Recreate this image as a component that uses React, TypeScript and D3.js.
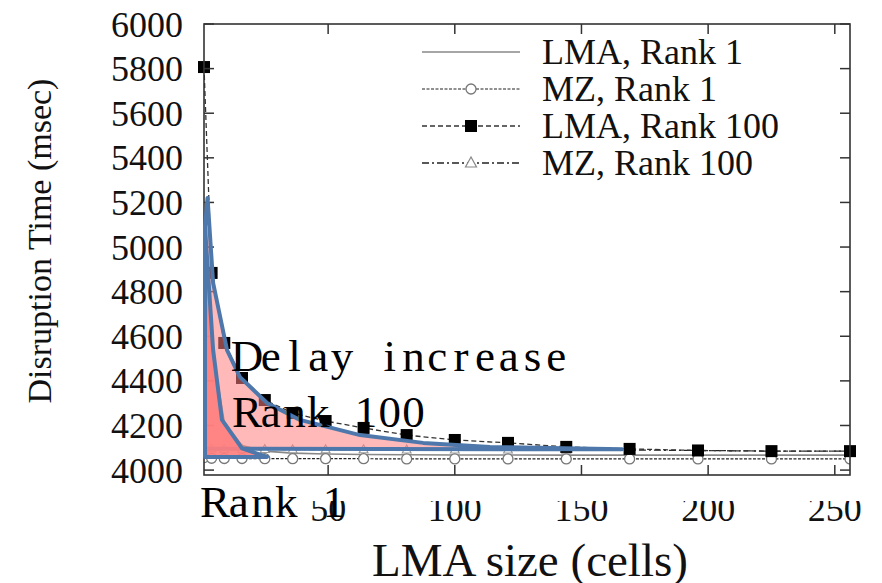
import React from "react";
import * as d3 from "d3";

// ---- data ----
const lmaSizes = [1, 4, 9, 16, 25, 36, 49, 64, 81, 100, 121, 144, 169, 196, 225, 256];
const lmaRank1 = [5150, 4560, 4215, 4110, 4085, 4076, 4072, 4070, 4069, 4068, 4068, 4067, 4067, 4067, 4067, 4067];
const mzRank1 = [4056, 4053, 4052, 4052, 4051, 4051, 4051, 4051, 4050, 4050, 4050, 4050, 4050, 4050, 4050, 4050];
const lmaRank100 = [5807, 4884, 4570, 4413, 4314, 4256, 4220, 4189, 4157, 4135, 4122, 4104, 4095, 4088, 4085, 4085];
const mzRank100 = [4100, 4096, 4094, 4093, 4093, 4092, 4092, 4092, 4091, 4091, 4091, 4090, 4090, 4088, 4085, 4085];

const yTicks = [4000, 4200, 4400, 4600, 4800, 5000, 5200, 5400, 5600, 5800, 6000];
const xTicks = [50, 100, 150, 200, 250];
const legendLabels = ["LMA, Rank 1", "MZ, Rank 1", "LMA, Rank 100", "MZ, Rank 100"];

// annotation shapes (data units: cells, msec)
const rank100Band: [number, number][] = [
  [2.4, 5220], [4.6, 4839], [10.1, 4538], [15.2, 4417], [25.9, 4301], [38.9, 4225],
  [62.6, 4157], [87.5, 4122], [113.9, 4104], [166, 4093], [16, 4096], [1.4, 4096], [1.4, 5090],
];
const rank1Band: [number, number][] = [
  [1.4, 5090], [4.6, 4538], [8.1, 4225], [16, 4097], [25.9, 4059], [1.4, 4059],
];

const W = 882, H = 583;
const L = 204, R = 850, T = 24, B = 475;
const SERIF = "Liberation Serif";
const BLUE = "#4e78ab";
const serifStyle = { fontFamily: SERIF } as React.CSSProperties;

function MonoText({ text, x0, y, cw, size }: { text: string; x0: number; y: number; cw: number; size: number }) {
  const xs = text.split("").map((_, i) => (x0 + (i + 0.5) * cw).toFixed(1)).join(" ");
  return (
    <text x={xs} y={y} style={serifStyle} fontSize={size} textAnchor="middle" fill="#000">
      {text}
    </text>
  );
}

export default function App() {
  const x = d3.scaleLinear().domain([1, 256]).range([L, R]);
  const y = d3.scaleLinear().domain([3978, 6000]).range([B, T]);
  const line = d3
    .line<[number, number]>()
    .x((d) => x(d[0]))
    .y((d) => y(d[1]));
  const pts = (vals: number[]) => lmaSizes.map((s, i) => [s, vals[i]] as [number, number]);
  const poly = (arr: [number, number][]) => arr.map((d) => `${x(d[0])},${y(d[1])}`).join(" ");

  const sq = 12;
  const tri = (cx: number, cy: number, s: number) =>
    `${cx},${cy - s * 0.6} ${cx - s * 0.55},${cy + s * 0.4} ${cx + s * 0.55},${cy + s * 0.4}`;

  const legendY = [52, 89, 126, 163];
  const lx1 = 422, lx2 = 520, lmx = 471;

  return (
    <svg width={W} height={H} style={{ position: "absolute", left: 0, top: 0, background: "#fff", fontFamily: SERIF }}>
      <defs>
        <clipPath id="plotClip">
          <rect x={L} y={T} width={R - L} height={B - T} />
        </clipPath>
        <clipPath id="xlabClip">
          <rect x={0} y={501} width={W} height={H - 501} />
        </clipPath>
      </defs>
      <rect width={W} height={H} fill="#fff" />

      {/* data */}
      <g clipPath="url(#plotClip)">
        <path d={line(pts(mzRank100)) || ""} fill="none" stroke="#222" strokeWidth={1.3} strokeDasharray="7,3,2,3" />
        <path d={line(pts(lmaRank1)) || ""} fill="none" stroke="#888" strokeWidth={1.6} />
        <path d={line(pts(mzRank1)) || ""} fill="none" stroke="#222" strokeWidth={1.2} strokeDasharray="3,1.5" />
        <path d={line(pts(lmaRank100)) || ""} fill="none" stroke="#333" strokeWidth={1.3} strokeDasharray="5,3" />
        {lmaSizes.map((s, i) => (
          <polygon key={"t" + i} points={tri(x(s), y(mzRank100[i]), 8)} fill="#fff" stroke="#999" strokeWidth={1.1} />
        ))}
        {lmaSizes.map((s, i) => (
          <circle key={"c" + i} cx={x(s)} cy={y(mzRank1[i])} r={5} fill="#fff" stroke="#777" strokeWidth={1.3} />
        ))}
      </g>
      {lmaSizes.map((s, i) => (
        <rect key={"s" + i} x={x(s) - sq / 2} y={y(lmaRank100[i]) - sq / 2} width={sq} height={sq} fill="#000" />
      ))}

      {/* frame and ticks */}
      <rect x={L} y={T} width={R - L} height={B - T} fill="none" stroke="#333" strokeWidth={1.6} />
      {yTicks.map((t) => (
        <g key={"y" + t}>
          <line x1={L} x2={L + 10} y1={y(t)} y2={y(t)} stroke="#333" strokeWidth={1.5} />
          <line x1={R} x2={R - 10} y1={y(t)} y2={y(t)} stroke="#333" strokeWidth={1.5} />
          <text x={183} y={y(t)} dy="0.35em" textAnchor="end" style={serifStyle} fontSize={36} fill="#111">
            {t}
          </text>
        </g>
      ))}
      {xTicks.map((t) => (
        <g key={"x" + t}>
          <line x1={x(t)} x2={x(t)} y1={B} y2={B - 10} stroke="#333" strokeWidth={1.5} />
          <line x1={x(t)} x2={x(t)} y1={T} y2={T + 10} stroke="#333" strokeWidth={1.5} />
        </g>
      ))}
      <g clipPath="url(#xlabClip)">
        {xTicks.map((t) => (
          <text key={"xl" + t} x={x(t)} y={521} textAnchor="middle" style={serifStyle} fontSize={36} fill="#111">
            {t}
          </text>
        ))}
      </g>

      {/* axis titles */}
      <text x={530} y={576} textAnchor="middle" style={serifStyle} fontSize={47} fill="#111">
        LMA size (cells)
      </text>
      <text transform={`translate(51,241) rotate(-90)`} textAnchor="middle" style={serifStyle} fontSize={34} fill="#111">
        Disruption Time (msec)
      </text>

      {/* legend */}
      {legendLabels.map((lab, i) => (
        <text key={"lg" + i} x={542} y={legendY[i] + 12} style={serifStyle} fontSize={36} fill="#111">
          {lab}
        </text>
      ))}
      <line x1={lx1} x2={lx2} y1={legendY[0]} y2={legendY[0]} stroke="#888" strokeWidth={1.6} />
      <line x1={lx1} x2={lx2} y1={legendY[1]} y2={legendY[1]} stroke="#222" strokeWidth={1.2} strokeDasharray="3,1.5" />
      <circle cx={lmx} cy={legendY[1]} r={5} fill="#fff" stroke="#777" strokeWidth={1.3} />
      <line x1={lx1} x2={lx2} y1={legendY[2]} y2={legendY[2]} stroke="#333" strokeWidth={1.3} strokeDasharray="5,3" />
      <rect x={lmx - sq / 2} y={legendY[2] - sq / 2} width={sq} height={sq} fill="#000" />
      <line x1={lx1} x2={lx2} y1={legendY[3]} y2={legendY[3]} stroke="#222" strokeWidth={1.3} strokeDasharray="7,3,2,3" />
      <polygon points={tri(lmx, legendY[3], 10)} fill="#fff" stroke="#888" strokeWidth={1.2} />

      {/* annotation overlays */}
      <polygon points={poly(rank100Band)} fill="#ff8080" fillOpacity={0.55} stroke={BLUE} strokeWidth={4} strokeLinejoin="round" />
      <polygon points={poly(rank1Band)} fill="#ff7f7f" fillOpacity={0.92} stroke={BLUE} strokeWidth={4} strokeLinejoin="round" />

      <MonoText text="Delay increase" x0={235} y={371} cw={23.8} size={45} />
      <MonoText text="Rank 100" x0={235} y={427} cw={23.8} size={45} />
      <MonoText text="Rank 1" x0={203} y={517} cw={23.8} size={45} />
    </svg>
  );
}
